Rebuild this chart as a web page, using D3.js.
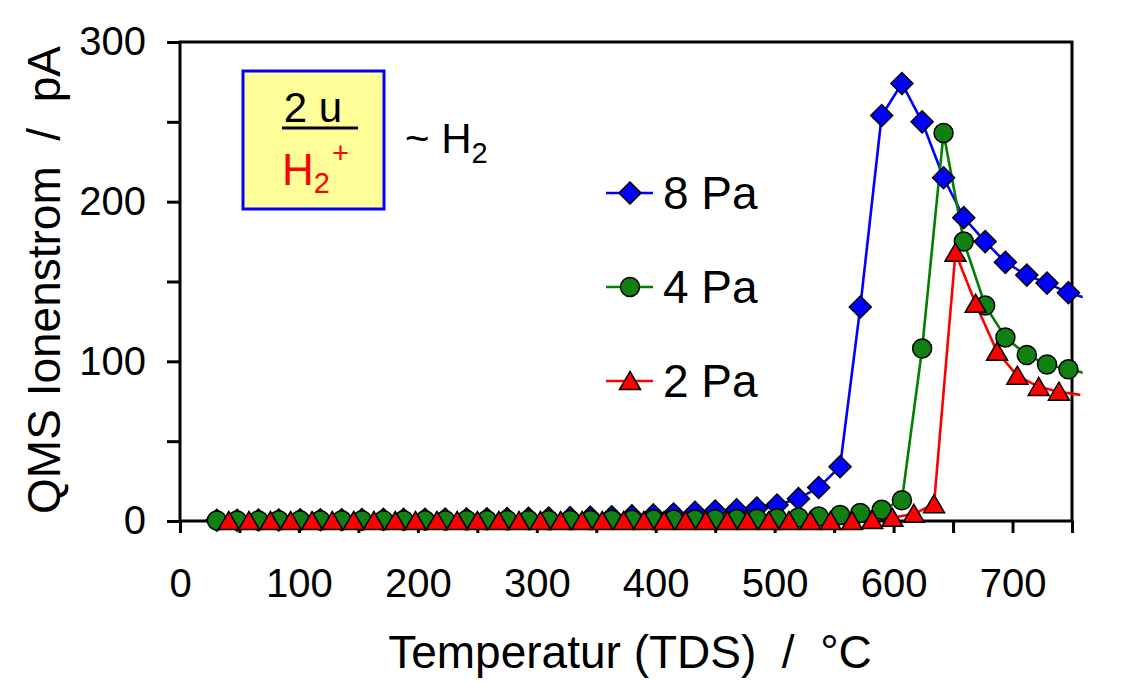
<!DOCTYPE html>
<html>
<head>
<meta charset="utf-8">
<script src="https://cdn.jsdelivr.net/npm/d3@7"></script>
<style>
    body { margin: 0; background: #fff; }
    svg { display: block; font-family: "Liberation Sans", Arial, sans-serif; }
</style>
</head>
<body>
<script>
"use strict";

const WIDTH = 1122
const HEIGHT = 697

// temperatures (°C) of the 8 Pa and 4 Pa runs (same sampling)
const temps_84 = [31, 48, 66, 83, 101, 118, 136, 153, 171, 188, 206, 223, 241, 258, 275, 293, 310, 328, 345, 363,
    380, 398, 415, 433, 450, 468, 485, 502, 520, 537, 555, 572, 590, 607, 624, 642, 659, 677, 694, 712, 729, 747, 765]
// temperatures of the 2 Pa run
const temps_2 = [41, 58, 76, 93, 111, 128, 146, 163, 181, 198, 216, 233, 250, 268, 285, 303, 320, 338, 355, 373,
    390, 407, 425, 442, 460, 477, 495, 512, 530, 547, 565, 582, 599, 617, 634, 652, 669, 687, 704, 722, 739, 757]

// QMS ion current (pA), mass 2 u
const pa8 = [0.5, 0.5, 0.6, 0.6, 0.7, 0.8, 0.8, 0.9, 1.0, 1.0, 1.1, 1.2, 1.3, 1.4, 1.5, 1.7, 1.9, 2.1, 2.4, 2.7,
    3.2, 3.8, 4.4, 5.5, 6.3, 7.0, 8.1, 10, 14, 21, 34, 134, 254, 274, 250, 215, 190, 175, 162, 154, 149, 143, 139]
const pa4 = [0.3, 0.3, 0.3, 0.4, 0.4, 0.4, 0.4, 0.5, 0.5, 0.5, 0.5, 0.5, 0.6, 0.6, 0.6, 0.6, 0.7, 0.7, 0.7, 0.8,
    0.8, 0.9, 0.9, 1.0, 1.1, 1.2, 1.4, 1.7, 2.2, 2.8, 3.8, 5, 7, 13, 108, 243, 175, 135, 115, 104, 98, 95, 92]
const pa2 = [0, 0, 0, 0, 0, 0, 0, 0, 0, 0, 0, 0, 0, 0, 0, 0, 0, 0, 0, 0,
    0, 0, 0, 0, 0, 0, 0, 0, 0, 0, 0, 0.6, 2, 4.5, 10.5, 168, 136, 106, 91, 84, 81, 79]

const x_ticks = [0, 50, 100, 150, 200, 250, 300, 350, 400, 450, 500, 550, 600, 650, 700, 750]
const y_ticks = [0, 50, 100, 150, 200, 250, 300]

const series = [
    { name: "8 Pa", temps: temps_84, values: pa8, color: "#0000ff", fill: "#0000ff", marker: "diamond" },
    { name: "4 Pa", temps: temps_84, values: pa4, color: "#008000", fill: "#108010", marker: "circle" },
    { name: "2 Pa", temps: temps_2, values: pa2, color: "#ff0000", fill: "#ff0000", marker: "triangle" },
]

const x = d3.scaleLinear().domain([0, 750]).range([180, 1072])
const y = d3.scaleLinear().domain([0, 300]).range([521, 42])

const svg = d3.select("body").append("svg")
    .attr("width", WIDTH)
    .attr("height", HEIGHT)

function marker_path(type) {
    if (type == "diamond")
        return "M0,-11L11,0L0,11L-11,0Z"
    if (type == "triangle")
        return "M0,-9.5L10.5,8.5L-10.5,8.5Z"
    const r = 9.5
    return `M${r},0A${r},${r} 0 1,1 ${-r},0A${r},${r} 0 1,1 ${r},0Z`
}

// axes
const x_axis = svg.append("g")
    .attr("transform", `translate(0,${y(0)})`)
    .call(d3.axisBottom(x).tickValues(x_ticks).tickSize(12).tickPadding(36)
        .tickFormat(d => d % 100 == 0 ? d : ""))
const y_axis = svg.append("g")
    .attr("transform", `translate(${x(0)},0)`)
    .call(d3.axisLeft(y).tickValues(y_ticks).tickSize(13).tickPadding(21)
        .tickFormat(d => d % 100 == 0 ? d : ""))

svg.selectAll(".domain").remove()
svg.selectAll(".tick line").attr("stroke", "#000").attr("stroke-width", 3)
svg.selectAll(".tick text").attr("font-size", 40).attr("fill", "#000")
    .attr("font-family", "Liberation Sans, Arial, sans-serif")

// frame around plot area
svg.append("rect")
    .attr("x", x(0))
    .attr("y", y(300))
    .attr("width", x(750) - x(0))
    .attr("height", y(0) - y(300))
    .attr("fill", "none")
    .attr("stroke", "#000")
    .attr("stroke-width", 3)

// axis titles
svg.append("text")
    .attr("x", 630)
    .attr("y", 668)
    .attr("text-anchor", "middle")
    .attr("font-size", 46)
    .style("white-space", "pre")
    .text("Temperatur (TDS)  /  °C")

svg.append("text")
    .attr("transform", "translate(60,280) rotate(-90)")
    .attr("text-anchor", "middle")
    .attr("font-size", 46)
    .style("white-space", "pre")
    .text("QMS Ionenstrom  /  pA")

// lines run a little past the right axis, like the original
svg.append("clipPath")
    .attr("id", "plot-clip")
    .append("rect")
    .attr("x", x(0))
    .attr("y", 0)
    .attr("width", x(759) - x(0))
    .attr("height", HEIGHT)

const line = d3.line().x(d => x(d.t)).y(d => y(d.v))

series.forEach(s => {
    s.points = s.temps.map((t, i) => ({ t: t, v: s.values[i] }))
})

const lines = svg.append("g").attr("clip-path", "url(#plot-clip)")
series.forEach(s => {
    lines.append("path")
        .datum(s.points)
        .attr("d", line)
        .attr("fill", "none")
        .attr("stroke", s.color)
        .attr("stroke-width", 2.6)
})

series.forEach(s => {
    svg.append("g")
        .selectAll("path")
        .data(s.points.filter(p => p.t <= 750))
        .join("path")
        .attr("d", marker_path(s.marker))
        .attr("transform", d => `translate(${x(d.t)},${y(d.v)})`)
        .attr("fill", s.fill)
        .attr("stroke", "#000")
        .attr("stroke-width", 1.5)
})

// legend
const legend_y = [193, 287, 381]
series.forEach((s, i) => {
    const g = svg.append("g").attr("transform", `translate(606,${legend_y[i]})`)
    g.append("line")
        .attr("x1", 0).attr("x2", 47)
        .attr("stroke", s.color)
        .attr("stroke-width", 2.6)
    g.append("path")
        .attr("d", marker_path(s.marker))
        .attr("transform", "translate(24,0)")
        .attr("fill", s.fill)
        .attr("stroke", "#000")
        .attr("stroke-width", 1.5)
    g.append("text")
        .attr("x", 57)
        .attr("y", 16)
        .attr("font-size", 46)
        .text(s.name)
})

// mass label box
svg.append("rect")
    .attr("x", 243).attr("y", 71)
    .attr("width", 141).attr("height", 138)
    .attr("fill", "#ffff99")
    .attr("stroke", "#0000ff")
    .attr("stroke-width", 3)

svg.append("text")
    .attr("x", 313).attr("y", 122)
    .attr("text-anchor", "middle")
    .attr("font-size", 42)
    .text("2 u")

svg.append("line")
    .attr("x1", 282).attr("x2", 358)
    .attr("y1", 128).attr("y2", 128)
    .attr("stroke", "#000")
    .attr("stroke-width", 3)

const ion = svg.append("text")
    .attr("x", 282).attr("y", 185)
    .attr("font-size", 44)
    .attr("fill", "#ff0000")
ion.append("tspan").text("H")
ion.append("tspan").attr("font-size", 29).attr("dy", 8).text("2")
ion.append("tspan").attr("font-size", 29).attr("dy", -30).attr("dx", 2).text("+")

const gas = svg.append("text")
    .attr("x", 405).attr("y", 153)
    .attr("font-size", 42)
    .style("white-space", "pre")
gas.append("tspan").text("~ H")
gas.append("tspan").attr("font-size", 29).attr("dy", 10).text("2")
</script>
</body>
</html>
